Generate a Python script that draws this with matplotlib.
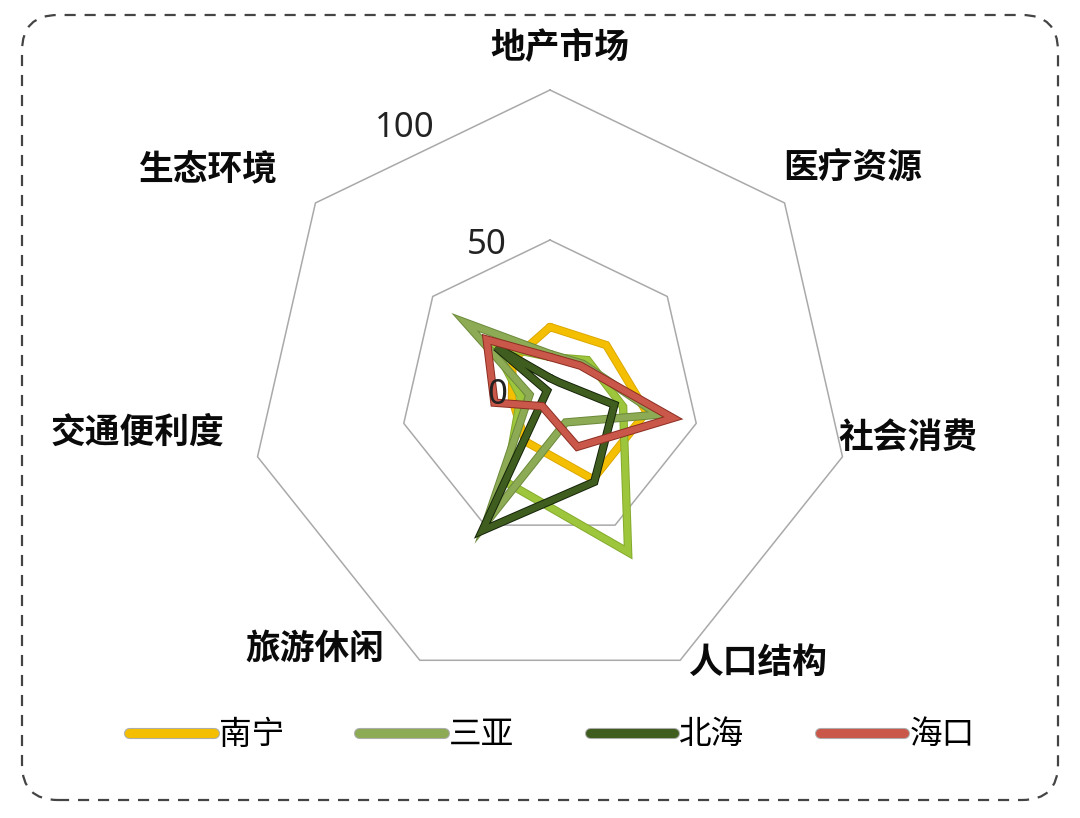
import numpy as np
import matplotlib
matplotlib.use("Agg")
import matplotlib.pyplot as plt
import matplotlib.patheffects as pe
from matplotlib.patches import FancyBboxPatch
from matplotlib.transforms import IdentityTransform

plt.rcParams['font.family'] = ['Noto Sans CJK SC', 'DejaVu Sans']

# axes, clockwise from the top
categories = ['地产市场', '医疗资源', '社会消费', '人口结构', '旅游休闲', '交通便利度', '生态环境']

nanning = [21, 24, 33, 33, 19, 13, 16]
sanya = [12, 14, 37, 12, 49, 7, 36]
extra_green = [11, 16, 25, 60, 34, 10, 24]   # drawn in the picture, no legend entry
beihai = [4, 4, 22, 34, 52, 1, 23]
haikou = [11, 13, 42, 21, 6, 19, 27]

grid_levels = [50, 100]
tick_labels = ['0', '50', '100']

W, H = 1080, 818
fig = plt.figure(figsize=(W / 100, H / 100), dpi=100)

# polar axes: centre at (550, 390) px, r=100 -> 300 px
cx, cy, R = 550, 390, 300
ax = fig.add_axes([(cx - R) / W, (H - cy - R) / H, 2 * R / W, 2 * R / H],
                  projection='polar')
ax.set_theta_zero_location('N')
ax.set_theta_direction(-1)
ax.set_ylim(0, 100)
ax.grid(False)
ax.set_xticks([])
ax.set_yticks([])
ax.spines['polar'].set_visible(False)
ax.patch.set_alpha(0)

n = len(categories)
theta = np.linspace(0, 2 * np.pi, n, endpoint=False)
theta_c = np.append(theta, theta[0])

for lvl in grid_levels:
    ax.plot(theta_c, [lvl] * (n + 1), color='#a9a9a9', lw=1.1, clip_on=False, zorder=1)


def series(vals, color, edge, label, z):
    v = np.append(vals, vals[0])
    ln, = ax.plot(theta_c, v, color=color, lw=4.6, label=label, clip_on=False,
                  solid_joinstyle='miter', solid_capstyle='round', zorder=z)
    ln.set_path_effects([pe.Stroke(linewidth=6.0, foreground=edge), pe.Normal()])
    return ln


l_nn = series(nanning, '#f4bf00', '#dca800', '南宁', 2)
series(extra_green, '#9dc63c', '#84aa2c', '_nolegend_', 3)
l_sy = series(sanya, '#8daa55', '#6b8a3a', '三亚', 4)
l_bh = series(beihai, '#3f5d1f', '#15230a', '北海', 5)
l_hk = series(haikou, '#c9574a', '#8c2e22', '海口', 6)

# category labels (pixel centres)
cat_pos = [(560, 47), (853, 167), (908, 437), (758, 662),
           (315, 648), (137, 432), (208, 170)]
for name, (px, py) in zip(categories, cat_pos):
    fig.text(px / W, 1 - py / H, name, ha='center', va='center',
             fontsize=25, fontweight='heavy', color='#0a0a0a')

# radial tick labels
tick_pos = [(497, 395), (487, 245), (405, 128)]
for t, (px, py) in zip(tick_labels, tick_pos):
    fig.text(px / W, 1 - py / H, t, ha='center', va='center', fontweight='light',
             fontsize=25, color='#222222', family=['Noto Sans', 'DejaVu Sans'])

leg = fig.legend(handles=[l_nn, l_sy, l_bh, l_hk], labels=['南宁', '三亚', '北海', '海口'],
                 loc='center', bbox_to_anchor=(552 / W, 1 - 735 / H), ncol=4,
                 frameon=False, handlelength=2.6, handletextpad=0.15,
                 columnspacing=2.3, prop={'size': 23.5, 'weight': 'light'})
for h in leg.get_lines():
    h.set_linewidth(6.5)
    h.set_solid_capstyle('round')
    h.set_path_effects([pe.Stroke(linewidth=8, foreground='#777777', alpha=0.6), pe.Normal()])

# dashed rounded frame
frame = FancyBboxPatch((22, H - 800), 1036, 785,
                       boxstyle='round,pad=0,rounding_size=36',
                       transform=IdentityTransform(), fill=False,
                       edgecolor='#444444', lw=1.6, linestyle=(0, (5, 4)))
fig.patches.append(frame)

fig.savefig('out.png', dpi=100)
